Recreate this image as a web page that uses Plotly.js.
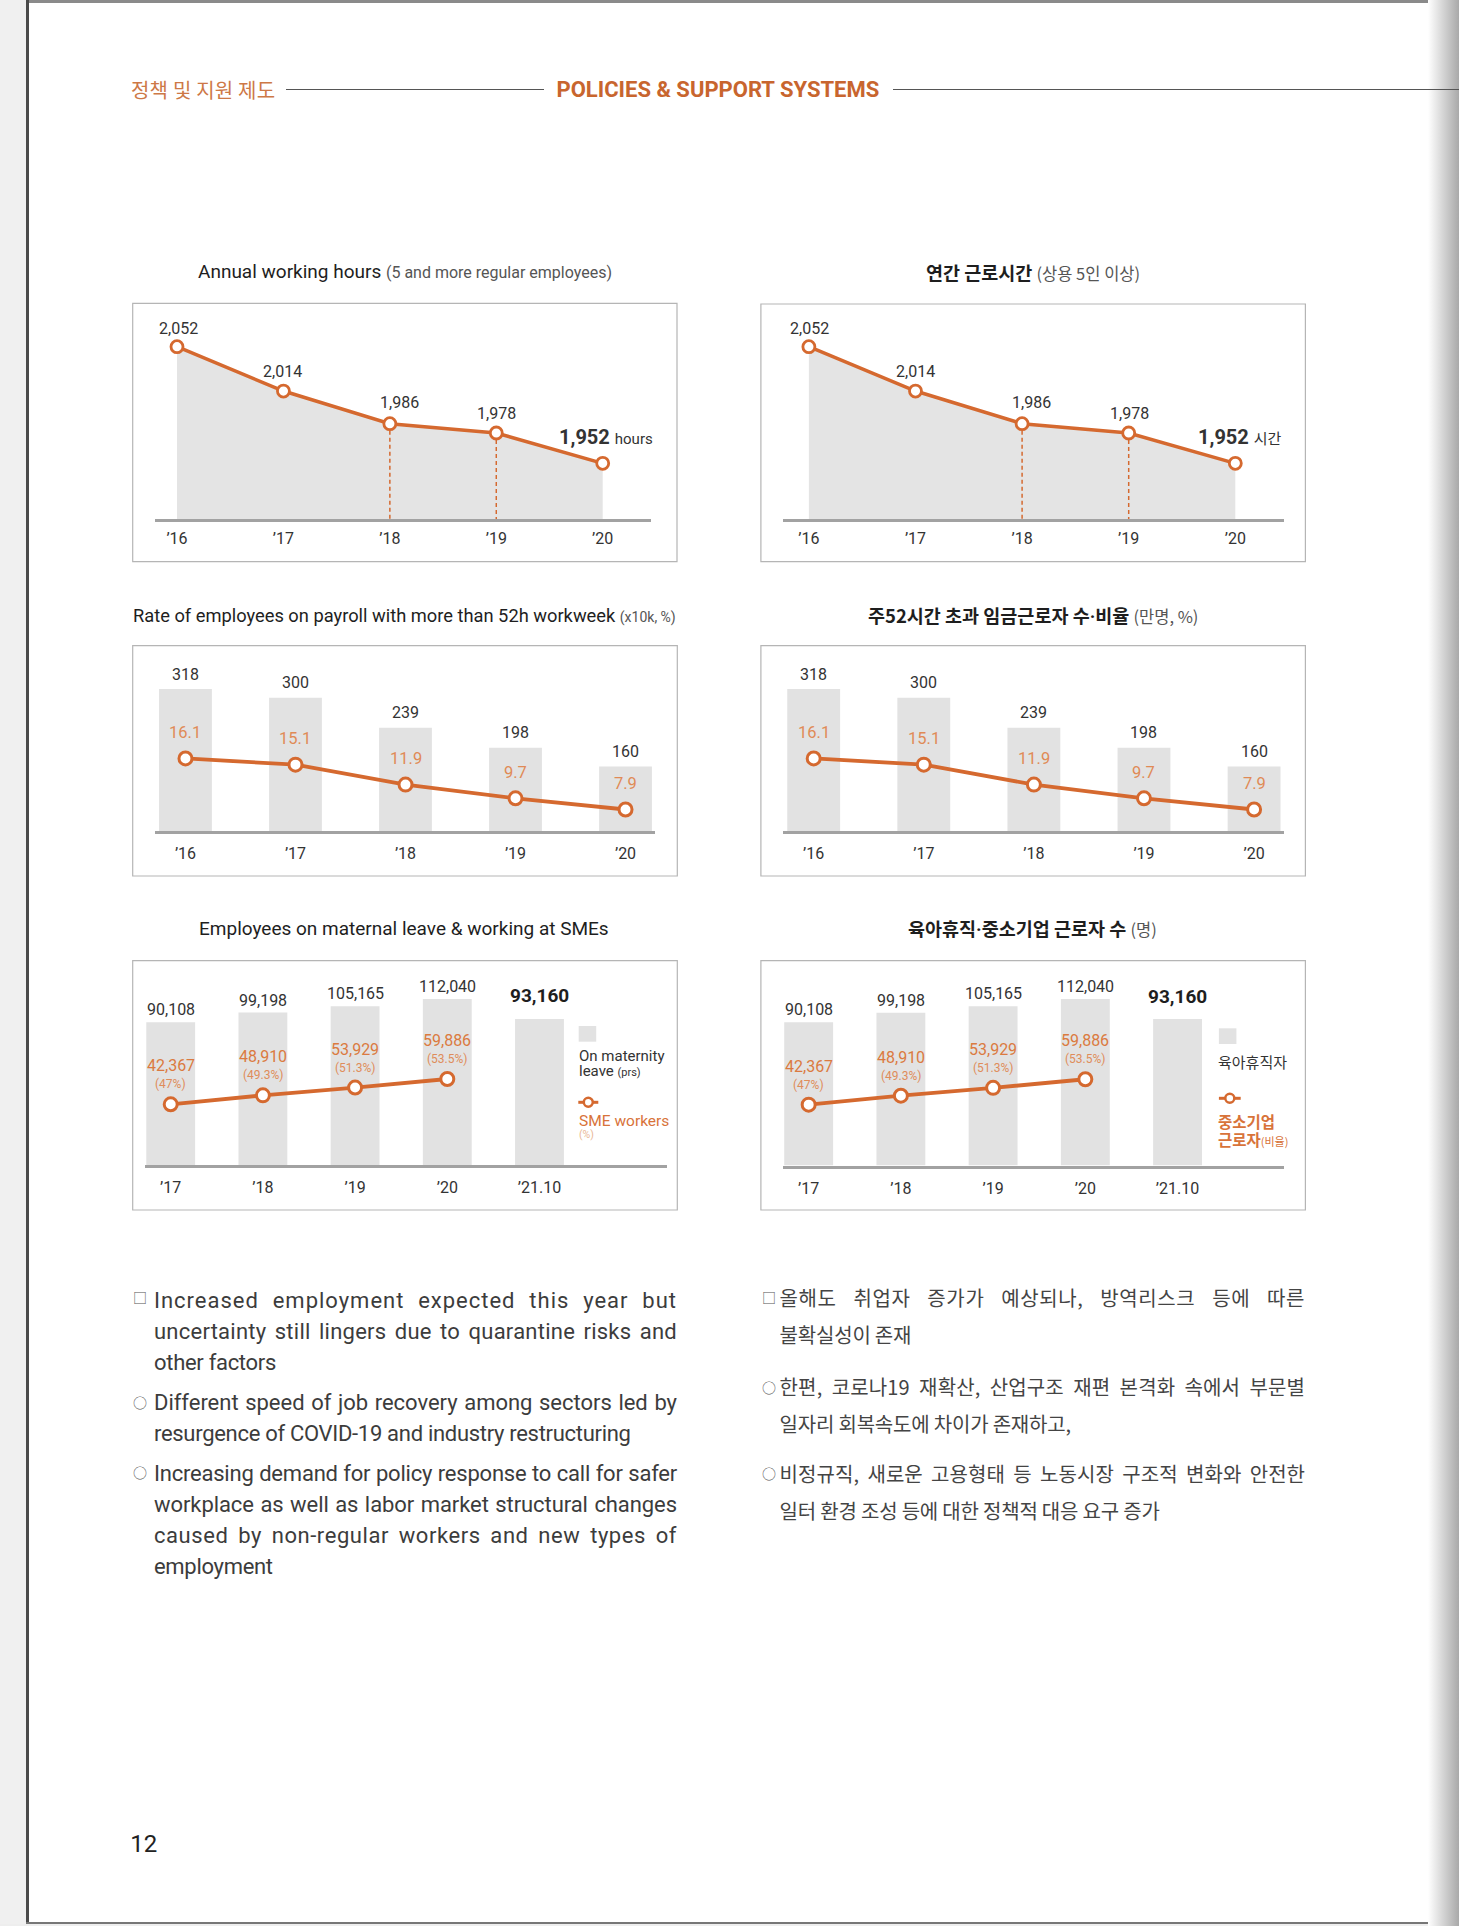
<!DOCTYPE html>
<html><head><meta charset="utf-8">
<script src="https://cdn.plot.ly/plotly-3.0.1.min.js"></script>
<style>
html,body{margin:0;padding:0;background:#fff;}
#page{position:relative;width:1459px;height:1926px;overflow:hidden;background:#fff;font-family:Roboto,'Noto Sans CJK KR',sans-serif;}
#chart{position:absolute;left:0;top:0;width:1459px;height:1926px;z-index:2;}
.abs{position:absolute;white-space:nowrap;}
.en{position:absolute;left:154px;width:523px;font-family:Roboto,sans-serif;font-size:22px;line-height:31px;color:#3c3c3c;letter-spacing:-0.3px;z-index:3;}
.ko{position:absolute;left:779.6px;width:525.5px;font-family:'Noto Sans CJK KR',sans-serif;font-size:20px;line-height:37px;color:#444;letter-spacing:-0.2px;z-index:3;}
.j{text-align:justify;text-align-last:justify;}
.bl{position:absolute;font-family:'Noto Sans CJK KR',sans-serif;font-size:14px;line-height:20px;color:#555;z-index:3;}
</style></head>
<body>
<div id="page">
  <!-- page frame -->
  <div class="abs" style="left:0;top:0;width:26px;height:1926px;background:#f0f0f0;"></div>
  <div class="abs" style="left:26px;top:0;width:1433px;height:2.5px;background:#8a8a8a;"></div>
  <div class="abs" style="left:26px;top:0;width:2.5px;height:1924px;background:#4a4a4a;"></div>
  <div class="abs" style="left:26px;top:1922px;width:1433px;height:2px;background:#777;"></div>
  <div class="abs" style="left:0;top:1924px;width:1459px;height:2px;background:#eee;"></div>
  <div class="abs" style="left:1428px;top:0;width:31px;height:1926px;background:linear-gradient(to right,rgba(255,255,255,1),#cfcfcf 55%,#a9a9a9);"></div>

  <!-- header -->
  <div class="abs" style="left:131px;top:76px;font-family:'Noto Sans CJK KR',sans-serif;font-size:20px;line-height:28px;color:#cd7846;letter-spacing:0.2px;">정책 및 지원 제도</div>
  <div class="abs" style="left:285.7px;top:88.5px;width:258.7px;height:1.5px;background:#555;"></div>
  <div class="abs" style="left:556.5px;top:76px;font-family:Roboto,sans-serif;font-weight:700;font-size:22px;line-height:28px;color:#c8652e;letter-spacing:0px;">POLICIES &amp; SUPPORT SYSTEMS</div>
  <div class="abs" style="left:893.3px;top:88.5px;width:566px;height:1.5px;background:#555;"></div>

  <!-- body text, left -->
  <div class="bl" style="left:133px;top:1287px;">□</div>
  <div class="en" style="top:1284.5px;">
    <div class="j">Increased employment expected this year but</div>
    <div class="j">uncertainty still lingers due to quarantine risks and</div>
    <div>other factors</div>
  </div>
  <div class="bl" style="left:133px;top:1392px;">○</div>
  <div class="en" style="top:1387.2px;">
    <div class="j">Different speed of job recovery among sectors led by</div>
    <div>resurgence of COVID-19 and industry restructuring</div>
  </div>
  <div class="bl" style="left:133px;top:1462px;">○</div>
  <div class="en" style="top:1457.8px;">
    <div class="j">Increasing demand for policy response to call for safer</div>
    <div class="j">workplace as well as labor market structural changes</div>
    <div class="j">caused by non-regular workers and new types of</div>
    <div>employment</div>
  </div>

  <!-- body text, right -->
  <div class="bl" style="left:762px;top:1287px;">□</div>
  <div class="ko" style="top:1278.8px;">
    <div class="j">올해도 취업자 증가가 예상되나, 방역리스크 등에 따른</div>
    <div>불확실성이 존재</div>
  </div>
  <div class="bl" style="left:762px;top:1376.7px;">○</div>
  <div class="ko" style="top:1368.2px;">
    <div class="j">한편, 코로나19 재확산, 산업구조 재편 본격화 속에서 부문별</div>
    <div>일자리 회복속도에 차이가 존재하고,</div>
  </div>
  <div class="bl" style="left:762px;top:1463.3px;">○</div>
  <div class="ko" style="top:1454.8px;">
    <div class="j">비정규직, 새로운 고용형태 등 노동시장 구조적 변화와 안전한</div>
    <div>일터 환경 조성 등에 대한 정책적 대응 요구 증가</div>
  </div>

  <!-- page number -->
  <div class="abs" style="left:130.3px;top:1830px;font-family:Roboto,sans-serif;font-size:24px;line-height:28px;color:#222;">12</div>

  <div id="chart"></div>
</div>
<script>
// ---------------- data ----------------
const yearsA = ['\u201916', '\u201917', '\u201918', '\u201919', '\u201920'];
const hours = [2052, 2014, 1986, 1978, 1952];
const dashedYears = ['\u201918', '\u201919'];
const over52Count = [318, 300, 239, 198, 160];
const over52Rate = [16.1, 15.1, 11.9, 9.7, 7.9];
const yearsB = ['\u201917', '\u201918', '\u201919', '\u201920', '\u201921.10'];
const leaveTotal = [90108, 99198, 105165, 112040, 93160];
const smeYears = ['\u201917', '\u201918', '\u201919', '\u201920'];
const smeCount = [42367, 48910, 53929, 59886];
const smeRate = [47, 49.3, 51.3, 53.5];

// ---------------- helpers ----------------
const W = 1459, H = 1926;
const px = x => x / W;
const py = y => 1 - y / H;
const dom = (a, b) => [a / W, b / W];
const vdom = (top, bottom) => [1 - bottom / H, 1 - top / H];
const fmt = v => v.toLocaleString('en-US');
const ORANGE = '#d5692f';
const ORANGE_LBL = '#e08a56';
const BAR = '#e2e2e2';
const FONT = 'Roboto, "Noto Sans CJK KR", sans-serif';
const KFONT = '"Noto Sans CJK KR", sans-serif';
const DOT = '<span style="font-family:Roboto">·</span>';

function xax(d, r, anchor, ticklen) {
  return {domain: dom(d[0], d[1]), range: r, type: 'category', anchor: anchor,
    showgrid: false, zeroline: false, showline: true, linecolor: '#a2a2a2', linewidth: 3,
    ticks: 'outside', ticklen: ticklen, tickcolor: 'rgba(0,0,0,0)',
    tickfont: {family: FONT, size: 16, color: '#333'}, fixedrange: true};
}
function yax(vd, r, anchor, overlay) {
  const o = {domain: vdom(vd[0], vd[1]), range: r, visible: false, fixedrange: true, anchor: anchor};
  if (overlay) { o.overlaying = overlay; }
  return o;
}

const layout = {
  width: W, height: H, margin: {l: 0, r: 0, t: 0, b: 0},
  paper_bgcolor: 'rgba(0,0,0,0)', plot_bgcolor: 'rgba(0,0,0,0)',
  showlegend: false, font: {family: FONT, color: '#333'},
  xaxis:  xax([155, 651], [-0.2067, 4.4537], 'y', 3),
  yaxis:  yax([315, 519.2], [1904.1, 2079.2], 'x'),
  xaxis2: xax([783.4, 1283.6], [-0.239, 4.453], 'y2', 3),
  yaxis2: yax([315, 519.2], [1904.1, 2079.2], 'x2'),
  xaxis3: xax([155, 655], [-0.277, 4.268], 'y3', 6),
  yaxis3: yax([655, 831], [28.2, 387.4], 'x3'),
  yaxis4: yax([655, 831], [4.45, 32.7], 'x3', 'y3'),
  xaxis4: xax([783.4, 1283.6], [-0.275, 4.268], 'y5', 6),
  yaxis5: yax([655, 831], [28.2, 387.4], 'x4'),
  yaxis6: yax([655, 831], [4.45, 32.7], 'x4', 'y5'),
  xaxis5: xax([144.7, 667.1], [-0.282, 5.384], 'y7', 6),
  yaxis7: yax([985, 1165], [-45000, 125293], 'x5'),
  yaxis8: yax([985, 1165], [31.43, 77.62], 'x5', 'y7'),
  xaxis6: xax([783.4, 1283.6], [-0.274, 5.15], 'y9', 6),
  yaxis9: yax([985, 1165.5], [-45000, 125293], 'x6'),
  yaxis10: yax([985, 1165.5], [31.43, 77.62], 'x6', 'y9'),
  shapes: [], annotations: []
};
const data = [];
const S = layout.shapes, A = layout.annotations;

// frames around charts
[[132.7, 303.3, 677, 561.7], [760.9, 304, 1305.4, 561.7],
 [132.7, 645.7, 677.3, 876], [760.9, 645.7, 1305.4, 876],
 [132.7, 960.7, 677.3, 1210], [760.9, 960.7, 1305.4, 1210]].forEach(b => {
  S.push({type: 'rect', xref: 'paper', yref: 'paper', x0: px(b[0]), x1: px(b[2]), y0: py(b[3]), y1: py(b[1]),
    line: {color: '#b5b5b5', width: 1.2}, fillcolor: 'rgba(0,0,0,0)', layer: 'below'});
});

// titles
function title(x, y, text, family, size) {
  A.push({xref: 'paper', yref: 'paper', x: px(x), y: py(y), xanchor: 'center', yanchor: 'middle',
    text: text, showarrow: false, font: {family: family, size: size, color: '#1e1e1e'}});
}
title(404.6, 271.7, 'Annual working hours <span style="font-size:16px;color:#555">(5 and more regular employees)</span>', FONT, 19);
title(1033, 271.7, '<b>연간 근로시간</b> <span style="font-size:16.5px;color:#555">(상용 5인 이상)</span>', KFONT, 18.5);
title(404.6, 615, 'Rate of employees on payroll with more than 52h workweek <span style="font-size:14px;color:#555">(x10k, %)</span>', FONT, 18.3);
title(1033, 615, '<b>주52시간 초과 임금근로자 수' + DOT + '비율</b> <span style="font-size:16.5px;color:#555">(만명, %)</span>', KFONT, 18.5);
title(404.4, 928.3, 'Employees on maternal leave &amp; working at SMEs', FONT, 19);
title(1032.7, 928.3, '<b>육아휴직' + DOT + '중소기업 근로자 수</b> <span style="font-size:16.5px;color:#555">(명)</span>', KFONT, 18.5);

// ---------- charts 1 & 2: annual working hours ----------
function hoursChart(xa, ya, unitText, shifts) {
  data.push({type: 'scatter', x: yearsA, y: hours, xaxis: xa, yaxis: ya, mode: 'lines',
    line: {width: 0, color: 'rgba(0,0,0,0)'}, fill: 'tozeroy', fillcolor: '#e4e4e4', hoverinfo: 'skip'});
  dashedYears.forEach(yr => {
    const i = yearsA.indexOf(yr);
    data.push({type: 'scatter', x: [yr, yr], y: [hours[i], 0], xaxis: xa, yaxis: ya, mode: 'lines',
      line: {color: ORANGE, width: 1.5, dash: '4px,3px'}, hoverinfo: 'skip'});
  });
  data.push({type: 'scatter', x: yearsA, y: hours, xaxis: xa, yaxis: ya, mode: 'lines+markers',
    cliponaxis: false, line: {color: ORANGE, width: 3.5},
    marker: {size: 12, color: '#fff', line: {color: ORANGE, width: 2.8}}, hoverinfo: 'skip'});
  hours.forEach((v, i) => {
    const last = i === hours.length - 1;
    A.push({xref: xa, yref: ya, x: yearsA[i], y: v, xshift: shifts[i][0], yshift: shifts[i][1],
      xanchor: 'center', yanchor: 'middle', showarrow: false,
      text: last ? '<b>' + fmt(v) + '</b> <span style="font-size:15px">' + unitText + '</span>' : fmt(v),
      font: {family: FONT, size: last ? 20 : 16, color: '#333'}});
  });
}
hoursChart('x', 'y', 'hours', [[1, 18], [-1, 20], [10, 21.5], [0, 19.5], [3, 26.5]]);
hoursChart('x2', 'y2', '시간', [[1, 18], [0, 20], [9, 21.5], [1, 19.5], [5, 26.5]]);

// ---------- charts 3 & 4: over-52h workers ----------
function over52Chart(xa, yb, yl) {
  data.push({type: 'bar', x: yearsA, y: over52Count, xaxis: xa, yaxis: yb, width: 0.48,
    marker: {color: BAR, line: {width: 0}}, hoverinfo: 'skip'});
  data.push({type: 'scatter', x: yearsA, y: over52Rate, xaxis: xa, yaxis: yl, mode: 'lines+markers',
    cliponaxis: false, line: {color: ORANGE, width: 3.8},
    marker: {size: 13, color: '#fff', line: {color: ORANGE, width: 3}}, hoverinfo: 'skip'});
  over52Count.forEach((v, i) => {
    A.push({xref: xa, yref: yb, x: yearsA[i], y: v, yshift: 15, showarrow: false,
      xanchor: 'center', yanchor: 'middle', text: String(v), font: {family: FONT, size: 16, color: '#333'}});
  });
  over52Rate.forEach((v, i) => {
    A.push({xref: xa, yref: yl, x: yearsA[i], y: v, yshift: 26, showarrow: false,
      xanchor: 'center', yanchor: 'middle', text: v.toFixed(1), font: {family: FONT, size: 16.5, color: ORANGE_LBL}});
  });
}
over52Chart('x3', 'y3', 'y4');
over52Chart('x4', 'y5', 'y6');

// ---------- charts 5 & 6: maternity leave / SMEs ----------
const BASE = -45000; // visual baseline of the bar scale
function leaveChart(xa, yb, yl) {
  data.push({type: 'bar', x: yearsB, y: leaveTotal.map(v => v - BASE), base: BASE, xaxis: xa, yaxis: yb,
    width: 0.53, marker: {color: BAR, line: {width: 0}}, hoverinfo: 'skip'});
  data.push({type: 'scatter', x: smeYears, y: smeRate, xaxis: xa, yaxis: yl, mode: 'lines+markers',
    cliponaxis: false, line: {color: ORANGE, width: 3.8},
    marker: {size: 13, color: '#fff', line: {color: ORANGE, width: 3}}, hoverinfo: 'skip'});
  leaveTotal.forEach((v, i) => {
    const last = i === leaveTotal.length - 1;
    A.push({xref: xa, yref: yb, x: yearsB[i], y: v, yshift: last ? 23 : 12.5, showarrow: false,
      xanchor: 'center', yanchor: 'middle', text: last ? '<b>' + fmt(v) + '</b>' : fmt(v),
      font: {family: FONT, size: last ? 19 : 16, color: last ? '#1e1e1e' : '#333'}});
  });
  smeRate.forEach((r, i) => {
    A.push({xref: xa, yref: yl, x: smeYears[i], y: r, yshift: 38.5, showarrow: false,
      xanchor: 'center', yanchor: 'middle', text: fmt(smeCount[i]), font: {family: FONT, size: 16, color: '#db7a40'}});
    A.push({xref: xa, yref: yl, x: smeYears[i], y: r, yshift: 20, showarrow: false,
      xanchor: 'center', yanchor: 'middle', text: '(' + r + '%)', font: {family: FONT, size: 12, color: '#df8c5a'}});
  });
}
leaveChart('x5', 'y7', 'y8');
leaveChart('x6', 'y9', 'y10');

// manual legends
function legendKey(sqX, sqY, lineX0, lineX1, lineY) {
  S.push({type: 'rect', xref: 'paper', yref: 'paper', x0: px(sqX), x1: px(sqX + 17.5), y0: py(sqY + 15.7), y1: py(sqY),
    line: {width: 0}, fillcolor: BAR});
  S.push({type: 'line', xref: 'paper', yref: 'paper', x0: px(lineX0), x1: px(lineX1), y0: py(lineY), y1: py(lineY),
    line: {color: ORANGE, width: 3}});
  const cx = (lineX0 + lineX1) / 2, r = 4.5;
  S.push({type: 'circle', xref: 'paper', yref: 'paper', x0: px(cx - r), x1: px(cx + r), y0: py(lineY + r), y1: py(lineY - r),
    line: {color: ORANGE, width: 2.5}, fillcolor: '#fff'});
}
legendKey(578.7, 1026, 578.3, 598.3, 1102.3);
legendKey(1218.9, 1028.3, 1218.9, 1240.7, 1098.3);
function legText(x, y, text, family, size, color) {
  A.push({xref: 'paper', yref: 'paper', x: px(x), y: py(y), xanchor: 'left', yanchor: 'middle',
    text: text, showarrow: false, font: {family: family, size: size, color: color}});
}
legText(576.5, 1055.7, 'On maternity', FONT, 15, '#333');
legText(576.5, 1071, 'leave <span style="font-size:11px">(prs)</span>', FONT, 15, '#333');
legText(576.5, 1121, 'SME workers', FONT, 15.5, '#d8733a');
legText(576.5, 1134, '(%)', FONT, 10.5, '#e9b896');
legText(1215.5, 1061, '육아휴직자', KFONT, 15, '#333');
legText(1215.5, 1120.7, '<b>중소기업</b>', KFONT, 15.5, '#d8733a');
legText(1215.5, 1139.3, '<b>근로자</b><span style="font-size:11px">(비율)</span>', KFONT, 15.5, '#d8733a');

Plotly.newPlot('chart', data, layout, {staticPlot: true, displayModeBar: false});

// spread the justified body lines partly by letter spacing, as in the print layout
function fitLines() {
  document.querySelectorAll('.j').forEach(el => {
    const txt = el.textContent.trim();
    const span = document.createElement('span');
    span.style.whiteSpace = 'nowrap';
    span.textContent = txt;
    el.textContent = '';
    el.style.textAlign = 'left';
    el.style.textAlignLast = 'left';
    el.appendChild(span);
    const natural = span.getBoundingClientRect().width;
    const target = el.clientWidth;
    const extra = target - natural;
    const base = parseFloat(getComputedStyle(el).letterSpacing) || 0;
    const share = el.closest('.en') ? 0.6 : 0.25;
    if (extra > 0) el.style.letterSpacing = (base + extra * share / txt.length) + 'px';
    el.style.textAlign = '';
    el.style.textAlignLast = '';
    el.textContent = txt;
  });
}
if (document.fonts && document.fonts.ready) { document.fonts.ready.then(fitLines); } else { fitLines(); }
</script>
</body></html>
